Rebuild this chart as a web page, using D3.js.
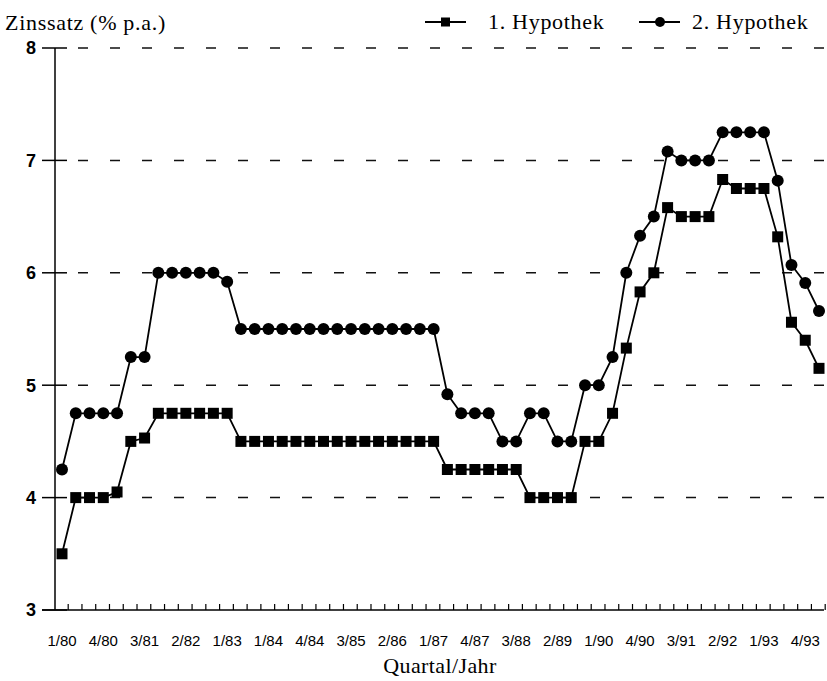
<!DOCTYPE html>
<html>
<head>
<meta charset="utf-8">
<script src="https://cdn.jsdelivr.net/npm/d3@7"></script>
<style>
  body { margin: 0; background: #fff; }
  svg { display: block; }
</style>
</head>
<body>
<svg id="chart" width="827" height="681"></svg>
<script>
// tick labels every 3rd quarter (as printed in the original)
const tickLabels = ["1/80", "4/80", "3/81", "2/82", "1/83", "1/84", "4/84", "3/85", "2/86",
  "1/87", "4/87", "3/88", "2/89", "1/90", "4/90", "3/91", "2/92", "1/93", "4/93"];

// 1. Hypothek, quarterly values
const hyp1 = [3.5, 4.0, 4.0, 4.0, 4.05, 4.5, 4.53, 4.75, 4.75, 4.75, 4.75, 4.75, 4.75,
  4.5, 4.5, 4.5, 4.5, 4.5, 4.5, 4.5, 4.5, 4.5, 4.5, 4.5, 4.5, 4.5, 4.5, 4.5,
  4.25, 4.25, 4.25, 4.25, 4.25, 4.25, 4.0, 4.0, 4.0, 4.0, 4.5, 4.5,
  4.75, 5.33, 5.83, 6.0, 6.58, 6.5, 6.5, 6.5, 6.83, 6.75, 6.75, 6.75, 6.32, 5.56, 5.4, 5.15];

// 2. Hypothek, quarterly values
const hyp2 = [4.25, 4.75, 4.75, 4.75, 4.75, 5.25, 5.25, 6.0, 6.0, 6.0, 6.0, 6.0, 5.92,
  5.5, 5.5, 5.5, 5.5, 5.5, 5.5, 5.5, 5.5, 5.5, 5.5, 5.5, 5.5, 5.5, 5.5, 5.5,
  4.92, 4.75, 4.75, 4.75, 4.5, 4.5, 4.75, 4.75, 4.5, 4.5, 5.0, 5.0,
  5.25, 6.0, 6.33, 6.5, 7.08, 7.0, 7.0, 7.0, 7.25, 7.25, 7.25, 7.25, 6.82, 6.07, 5.91, 5.66];

const yTicks = [3, 4, 5, 6, 7, 8];

const svg = d3.select("#chart");
const serif = "'Liberation Serif', 'DejaVu Serif', serif";
const sans = "'Liberation Sans Narrow', 'Liberation Sans', sans-serif";

const x = d3.scaleLinear().domain([0, hyp1.length - 1]).range([62, 819]);
const y = d3.scaleLinear().domain([3, 8]).range([610, 48]);
const axisX = 55;

// dashed grid lines
svg.append("g")
  .selectAll("line")
  .data(yTicks.filter(d => d > 3))
  .join("line")
  .attr("x1", 67).attr("x2", 827)
  .attr("y1", d => y(d)).attr("y2", d => y(d))
  .attr("stroke", "#111")
  .attr("stroke-width", 1.5)
  .attr("stroke-dasharray", "10,22")
  .attr("stroke-dashoffset", -11);

// y axis
svg.append("line")
  .attr("x1", axisX).attr("x2", axisX)
  .attr("y1", y(8)).attr("y2", y(3))
  .attr("stroke", "#000").attr("stroke-width", 1.5);

svg.append("g")
  .selectAll("line")
  .data(yTicks)
  .join("line")
  .attr("x1", 42).attr("x2", 67)
  .attr("y1", d => y(d)).attr("y2", d => y(d))
  .attr("stroke", "#000").attr("stroke-width", 1.5);

svg.append("g")
  .selectAll("text")
  .data(yTicks)
  .join("text")
  .attr("x", 36).attr("y", d => y(d))
  .attr("dy", "0.36em")
  .attr("text-anchor", "end")
  .attr("font-family", sans)
  .attr("font-weight", "bold")
  .attr("font-size", 18)
  .text(d => d);

// x axis
svg.append("line")
  .attr("x1", 42).attr("x2", 824)
  .attr("y1", y(3)).attr("y2", y(3))
  .attr("stroke", "#000").attr("stroke-width", 1.5);

svg.append("g")
  .selectAll("line")
  .data(d3.range(0, hyp1.length))
  .join("line")
  .attr("x1", d => x(d + 0.45)).attr("x2", d => x(d + 0.45))
  .attr("y1", y(3)).attr("y2", y(3) - 6)
  .attr("stroke", "#000").attr("stroke-width", 1.2);

svg.append("g")
  .selectAll("text")
  .data(tickLabels)
  .join("text")
  .attr("x", (d, i) => x(i * 3))
  .attr("y", 646)
  .attr("text-anchor", "middle")
  .attr("font-family", sans)
  .attr("font-size", 15)
  .text(d => d);

svg.append("text")
  .attr("x", 440).attr("y", 673)
  .attr("text-anchor", "middle")
  .attr("font-family", serif)
  .attr("font-size", 22)
  .attr("letter-spacing", 0.4)
  .text("Quartal/Jahr");

svg.append("text")
  .attr("x", 5).attr("y", 30)
  .attr("font-family", serif)
  .attr("font-size", 22)
  .attr("letter-spacing", 0.7)
  .text("Zinssatz (% p.a.)");

// series
const line = d3.line().x((d, i) => x(i)).y(d => y(d));

function drawSeries(data, shape) {
  const g = svg.append("g");
  g.append("path")
    .datum(data)
    .attr("d", line)
    .attr("fill", "none")
    .attr("stroke", "#000")
    .attr("stroke-width", 1.8);
  if (shape === "square") {
    g.selectAll("rect")
      .data(data)
      .join("rect")
      .attr("x", (d, i) => x(i) - 5.5)
      .attr("y", d => y(d) - 5.5)
      .attr("width", 11).attr("height", 11)
      .attr("fill", "#000");
  } else {
    g.selectAll("circle")
      .data(data)
      .join("circle")
      .attr("cx", (d, i) => x(i))
      .attr("cy", d => y(d))
      .attr("r", 6)
      .attr("fill", "#000");
  }
}

drawSeries(hyp1, "square");
drawSeries(hyp2, "circle");

// legend
const legend = [
  { name: "1. Hypothek", shape: "square", x0: 425, tx: 488 },
  { name: "2. Hypothek", shape: "circle", x0: 639, tx: 692 }
];
const ly = 22;
legend.forEach(l => {
  svg.append("line")
    .attr("x1", l.x0).attr("x2", l.x0 + 41)
    .attr("y1", ly).attr("y2", ly)
    .attr("stroke", "#000").attr("stroke-width", 1.8);
  if (l.shape === "square") {
    svg.append("rect")
      .attr("x", l.x0 + 16).attr("y", ly - 4.5)
      .attr("width", 9).attr("height", 9)
      .attr("fill", "#000");
  } else {
    svg.append("circle")
      .attr("cx", l.x0 + 21).attr("cy", ly)
      .attr("r", 5).attr("fill", "#000");
  }
  svg.append("text")
    .attr("x", l.tx).attr("y", 29)
    .attr("font-family", serif)
    .attr("font-size", 22)
    .attr("letter-spacing", 0.7)
    .text(l.name);
});
</script>
</body>
</html>
